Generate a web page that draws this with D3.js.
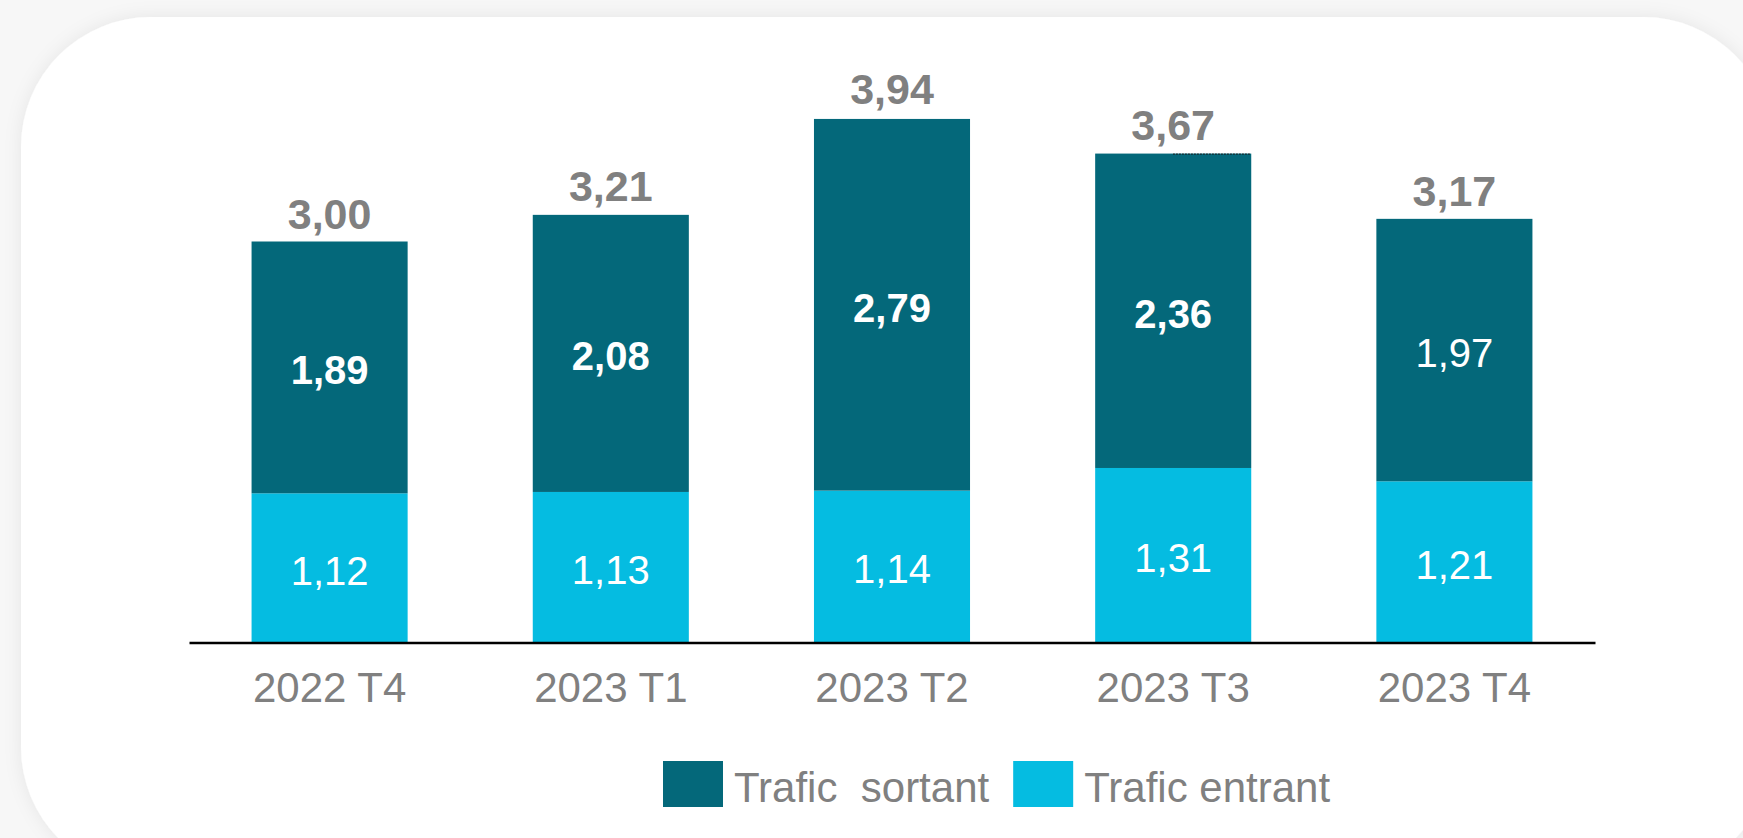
<html><head><meta charset="utf-8">
    <style>
        body {
            margin: 0;
            background-color: #f7f7f7;
            font-family: "Liberation Sans", Arial, Helvetica, sans-serif;
        }
        svg {
            display: block;
        }
    </style>
</head>
<body>
    <svg id="TraficChart"></svg>
</body>
<script type="text/javascript" src="https://d3js.org/d3.v7.min.js"></script>
<script type="text/javascript">
    // data
    let quarters = ["2022 T4", "2023 T1", "2023 T2", "2023 T3", "2023 T4"];
    let trafficOut = [1.89, 2.08, 2.79, 2.36, 1.97];   // Trafic sortant (dark, top)
    let trafficIn = [1.12, 1.13, 1.14, 1.31, 1.21];    // Trafic entrant (light, bottom)
    let totals = [3.00, 3.21, 3.94, 3.67, 3.17];
    let outBold = [true, true, true, true, false];
    let seriesNames = ["Trafic  sortant", "Trafic entrant"];

    let colors = {dark: "#04687a", light: "#05bce1", gray: "#808080"};

    function fmt(v) {
        return v.toFixed(2).replace(".", ",");
    }

    function getConfig() {
        let width = 1743;
        let height = 838;
        let container = d3.select("#TraficChart")
            .attr("width", width)
            .attr("height", height);
        return {width, height, container};
    }

    function getScales() {
        let xScale = d3.scaleBand()
            .domain(quarters)
            .range([189, 1595])
            .paddingInner(0.445)
            .paddingOuter(0.2225);
        let yScale = d3.scaleLinear()
            .domain([0, 4.5])
            .range([642.5, 43]);
        return {xScale, yScale};
    }

    function drawCard(config) {
        let {container} = config;
        let defs = container.append("defs");
        let filter = defs.append("filter").attr("id", "shadow")
            .attr("x", "-10%").attr("y", "-10%").attr("width", "120%").attr("height", "120%");
        filter.append("feDropShadow")
            .attr("dx", 0).attr("dy", 0)
            .attr("stdDeviation", 9)
            .attr("flood-color", "#000")
            .attr("flood-opacity", 0.07);
        container.append("rect")
            .attr("x", 21).attr("y", 17)
            .attr("width", 1752).attr("height", 860)
            .attr("rx", 130).attr("ry", 130)
            .attr("fill", "#ffffff")
            .attr("filter", "url(#shadow)");
    }

    function drawBars(config, scales) {
        let {container} = config;
        let {xScale, yScale} = scales;
        let rows = quarters.map((q, i) => ({q, inn: trafficIn[i], out: trafficOut[i], total: totals[i], bold: outBold[i]}));
        let body = container.append("g");

        // light part (bottom)
        body.selectAll(".barIn")
            .data(rows)
            .enter().append("rect")
            .attr("class", "barIn")
            .attr("x", d => xScale(d.q))
            .attr("width", xScale.bandwidth())
            .attr("y", d => yScale(d.inn))
            .attr("height", d => yScale(0) - yScale(d.inn))
            .attr("fill", colors.light);

        // dark part (top)
        body.selectAll(".barOut")
            .data(rows)
            .enter().append("rect")
            .attr("class", "barOut")
            .attr("x", d => xScale(d.q))
            .attr("width", xScale.bandwidth())
            .attr("y", d => yScale(d.inn + d.out))
            .attr("height", d => yScale(d.inn) - yScale(d.inn + d.out))
            .attr("fill", colors.dark);

        // small dotted stroke seen on top of 2023 T3
        let t3 = rows[3];
        body.append("line")
            .attr("x1", xScale(t3.q) + xScale.bandwidth() / 2)
            .attr("x2", xScale(t3.q) + xScale.bandwidth())
            .attr("y1", yScale(t3.total) + 0.5)
            .attr("y2", yScale(t3.total) + 0.5)
            .attr("stroke", "#1a1a1a")
            .attr("stroke-width", 1.2)
            .attr("stroke-dasharray", "1.5,1.5");

        let cx = d => xScale(d.q) + xScale.bandwidth() / 2;

        body.selectAll(".lblIn")
            .data(rows)
            .enter().append("text")
            .attr("x", cx)
            .attr("y", d => (yScale(0) + yScale(d.inn)) / 2)
            .attr("dy", "0.42em")
            .attr("text-anchor", "middle")
            .attr("fill", "#ffffff")
            .style("font-size", "40px")
            .text(d => fmt(d.inn));

        body.selectAll(".lblOut")
            .data(rows)
            .enter().append("text")
            .attr("x", cx)
            .attr("y", d => (yScale(d.inn) + yScale(d.inn + d.out)) / 2)
            .attr("dy", "0.42em")
            .attr("text-anchor", "middle")
            .attr("fill", "#ffffff")
            .style("font-size", "40px")
            .style("font-weight", d => d.bold ? "bold" : "normal")
            .text(d => fmt(d.out));

        body.selectAll(".lblTotal")
            .data(rows)
            .enter().append("text")
            .attr("x", cx)
            .attr("y", d => yScale(d.total) - 14)
            .attr("text-anchor", "middle")
            .attr("fill", colors.gray)
            .style("font-size", "43px")
            .style("font-weight", "bold")
            .text(d => fmt(d.total));
    }

    function drawAxis(config, scales) {
        let {container} = config;
        let {xScale, yScale} = scales;
        let axis = container.append("g")
            .attr("transform", `translate(0, ${yScale(0)})`)
            .call(d3.axisBottom(xScale).tickSize(0).tickPadding(30));
        axis.select(".domain")
            .attr("stroke", "#000")
            .attr("stroke-width", 2.5);
        axis.selectAll("text")
            .attr("fill", colors.gray)
            .style("font-size", "42px")
            .style("font-family", "\"Liberation Sans\", Arial, sans-serif");
    }

    function drawLegend(config) {
        let {container} = config;
        let legend = container.append("g");
        let swatches = [colors.dark, colors.light];
        let x = 663;
        seriesNames.forEach((name, i) => {
            legend.append("rect")
                .attr("x", x).attr("y", 761)
                .attr("width", 60).attr("height", 46)
                .attr("fill", swatches[i]);
            let t = legend.append("text")
                .attr("x", x + 71).attr("y", 801.5)
                .attr("fill", colors.gray)
                .style("font-size", "42px")
                .style("white-space", "pre")
                .text(name);
            x += 71 + t.node().getComputedTextLength() + 24;
        });
    }

    function showChart() {
        let config = getConfig();
        let scales = getScales();
        drawCard(config);
        drawBars(config, scales);
        drawAxis(config, scales);
        drawLegend(config);
    }

    showChart();
</script>
</html>
